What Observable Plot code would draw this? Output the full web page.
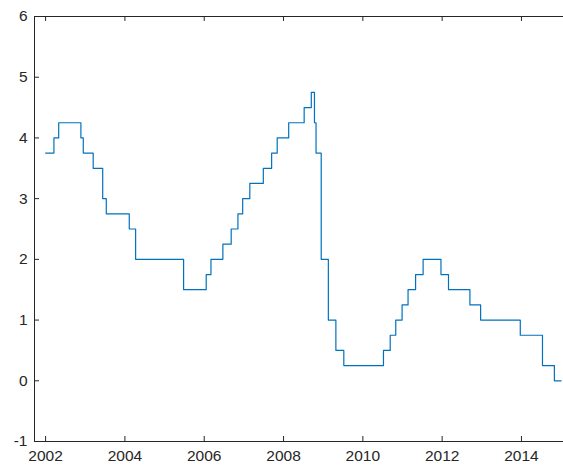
<!DOCTYPE html>
<html><head><meta charset="utf-8">
<script src="https://cdn.jsdelivr.net/npm/d3@7"></script>
<script src="https://cdn.jsdelivr.net/npm/@observablehq/plot@0.6"></script>
<style>html,body{margin:0;padding:0;background:#fff}</style>
</head><body><div id="chart"></div>
<script>
// Policy rate (%) — step changes, decimal year of each change
const dates = [2002.00, 2002.21, 2002.33, 2002.89, 2002.95, 2003.20, 2003.44, 2003.53,
  2004.11, 2004.27, 2005.48, 2006.05, 2006.17, 2006.47, 2006.68, 2006.85, 2006.97,
  2007.15, 2007.49, 2007.70, 2007.84, 2008.13, 2008.52, 2008.70, 2008.78, 2008.82,
  2008.95, 2009.13, 2009.32, 2009.52, 2010.52, 2010.69, 2010.83, 2010.99, 2011.14,
  2011.33, 2011.52, 2011.97, 2012.16, 2012.70, 2012.97, 2013.97, 2014.53, 2014.83, 2015.00];
const rates = [3.75, 4.00, 4.25, 4.00, 3.75, 3.50, 3.00, 2.75,
  2.50, 2.00, 1.50, 1.75, 2.00, 2.25, 2.50, 2.75, 3.00,
  3.25, 3.50, 3.75, 4.00, 4.25, 4.50, 4.75, 4.25, 3.75,
  2.00, 1.00, 0.50, 0.25, 0.50, 0.75, 1.00, 1.25, 1.50,
  1.75, 2.00, 1.75, 1.50, 1.25, 1.00, 0.75, 0.25, 0.00, 0.00];
const xTicks = [2002, 2004, 2006, 2008, 2010, 2012, 2014];
const yTicks = [-1, 0, 1, 2, 3, 4, 5, 6];
const xDomain = [2001.72, 2015.06];
const yDomain = [-1, 6];

const data = dates.map((d, i) => ({date: d, rate: rates[i]}));
const W = 563, H = 470, mL = 34, mR = 0, mT = 16, mB = 29;
const plotW = W - mL - mR, plotH = H - mT - mB;
const axisColor = "#262626";

const chart = Plot.plot({
  width: W, height: H,
  marginLeft: mL, marginRight: mR, marginTop: mT, marginBottom: mB,
  style: {fontFamily: "'Liberation Sans', Arial, sans-serif", fontSize: "15.5px", color: axisColor, background: "white"},
  x: {domain: xDomain, ticks: xTicks, tickFormat: d => String(d), tickSize: 0, tickPadding: 8, label: null},
  y: {domain: yDomain, ticks: yTicks, tickFormat: d => String(d), tickSize: 0, tickPadding: 7, label: null},
  marks: [
    Plot.line(data, {x: "date", y: "rate", curve: "step-after", stroke: "#0072BD", strokeWidth: 1.2}),
    Plot.ruleX([xDomain[0]], {stroke: axisColor, strokeOpacity: 1}),
    Plot.ruleY(yDomain, {stroke: axisColor, strokeOpacity: 1}),
    Plot.tickX(xTicks, {x: d => d, insetTop: plotH - 5, stroke: axisColor}),
    Plot.tickX(xTicks, {x: d => d, insetBottom: plotH - 5, stroke: axisColor}),
    Plot.tickY(yTicks, {y: d => d, insetRight: plotW - 5, stroke: axisColor})
  ]
});
document.getElementById("chart").appendChild(chart);
</script>
</body></html>
